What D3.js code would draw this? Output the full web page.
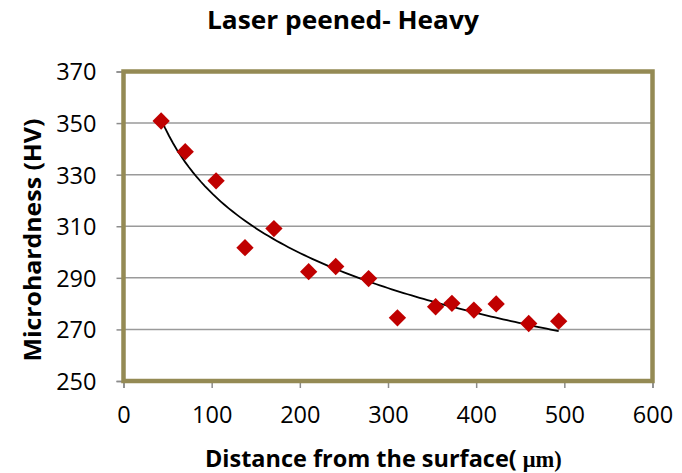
<!DOCTYPE html>
<html><head><meta charset="utf-8">
<script src="https://cdn.jsdelivr.net/npm/d3@7"></script>
<style>body{margin:0;background:#fff}svg{display:block}</style>
</head><body>
<svg id="c" width="682" height="473"></svg>
<script>
const distance = [42.7, 70, 105, 137.8, 170.6, 210, 240.7, 278, 310.7, 354, 372.5, 397.4, 422.7, 459.6, 493.6];
const hardness = [350.8, 338.9, 327.6, 301.7, 309.1, 292.4, 294.4, 289.7, 274.5, 278.8, 280.1, 277.5, 279.9, 272.3, 273.2];
const xTicks = [0, 100, 200, 300, 400, 500, 600];
const yTicks = [250, 270, 290, 310, 330, 350, 370];
const title = "Laser peened- Heavy";
const xLabel = "Distance from the surface( ";
const xLabelUnit = "μm)";
const yLabel = "Microhardness (HV)";

const svg = d3.select("#c");
const x = d3.scaleLinear().domain([0, 600]).range([123.5, 652.5]);
const y = d3.scaleLinear().domain([250, 370]).range([381, 71.5]);
const font = "'Open Sans', Lato, sans-serif";

// gridlines
svg.append("g").selectAll("line").data(yTicks.slice(1, -1)).join("line")
  .attr("x1", x(0)).attr("x2", x(600)).attr("y1", d => y(d)).attr("y2", d => y(d))
  .attr("stroke", "#9a9a9a").attr("stroke-width", 1.5);

// axes
const yAxis = svg.append("g").attr("transform", `translate(${x(0)},0)`)
  .call(d3.axisLeft(y).tickValues(yTicks).tickSize(7).tickPadding(20).tickFormat(d3.format("d")));
const xAxis = svg.append("g").attr("transform", `translate(0,${y(250)})`)
  .call(d3.axisBottom(x).tickValues(xTicks).tickSize(7).tickPadding(13).tickFormat(d3.format("d")));
[yAxis, xAxis].forEach(a => {
  a.select(".domain").attr("stroke", "#8c8c8c").attr("stroke-width", 1.5);
  a.selectAll(".tick line").attr("stroke", "#8c8c8c").attr("stroke-width", 1.5);
  a.selectAll(".tick text").attr("font-family", font).attr("font-size", 23.5).attr("fill", "#000");
});
yAxis.selectAll(".tick text").attr("dy", "0.36em");
xAxis.selectAll(".tick text").attr("y", 42).attr("dy", 0);

// border
svg.append("rect").attr("x", x(0)).attr("y", y(370)).attr("width", x(600) - x(0)).attr("height", y(250) - y(370))
  .attr("fill", "none").attr("stroke", "#948a54").attr("stroke-width", 4.5);

// log trendline (least squares fit y = a ln x + b)
const lx = distance.map(Math.log);
const mx = d3.mean(lx), my = d3.mean(hardness);
const a = d3.sum(lx.map((v, i) => (v - mx) * (hardness[i] - my))) / d3.sum(lx.map(v => (v - mx) ** 2));
const b = my - a * mx;
const xs = d3.range(0, 101).map(i => distance[0] + (distance[distance.length - 1] - distance[0]) * i / 100);
svg.append("path").datum(xs)
  .attr("d", d3.line().x(d => x(d)).y(d => y(a * Math.log(d) + b)))
  .attr("fill", "none").attr("stroke", "#000").attr("stroke-width", 1.8);

// markers
svg.append("g").selectAll("path").data(distance).join("path")
  .attr("d", d3.symbol(d3.symbolSquare, 150))
  .attr("transform", (d, i) => `translate(${x(d)},${y(hardness[i])}) rotate(45)`)
  .attr("fill", "#c00000");

// fit a text horizontally to a target width by scaling
function fitText(sel, left, baseline, target) {
  const w = sel.node().getComputedTextLength();
  sel.attr("transform", `translate(${left},${baseline}) scale(${target / w},1)`);
}

// title
const t = svg.append("text").attr("font-family", font).attr("font-weight", "bold").attr("font-size", 25).text(title);
fitText(t, 207, 29, 272);

// x label (sans text and serif unit)
const xl = svg.append("text").attr("font-family", font).attr("font-weight", "bold").attr("font-size", 24);
xl.append("tspan").text(xLabel);
xl.append("tspan").attr("font-family", "'Liberation Serif', serif").attr("font-size", 23).text(xLabelUnit);
fitText(xl, 205, 467, 357);

// y label
const yl = svg.append("text").attr("font-family", font).attr("font-weight", "bold").attr("font-size", 23).text(yLabel);
const yw = yl.node().getComputedTextLength();
yl.attr("transform", `translate(41,${240 + 243 / 2}) rotate(-90) scale(${243 / yw},1)`);
</script>
</body></html>
